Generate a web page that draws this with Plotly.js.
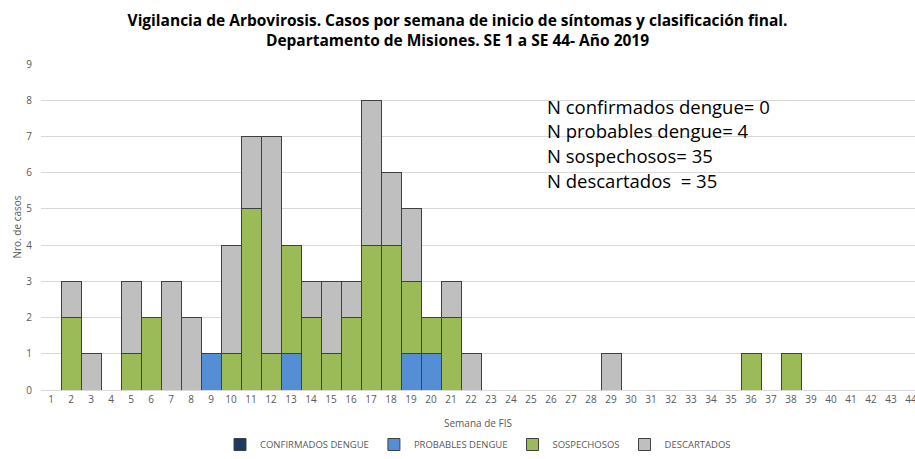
<!DOCTYPE html>
<html>
<head>
<meta charset="utf-8">
<script src="https://cdn.plot.ly/plotly-3.0.1.min.js"></script>
<style>html,body{margin:0;padding:0;background:#fff;}#chart{width:915px;height:459px;}</style>
</head>
<body>
<div id="chart"></div>
<script>
const semanas = Array.from({length: 44}, (_, i) => i + 1);
const confirmados = [0,0,0,0,0,0,0,0,0,0,0,0,0,0,0,0,0,0,0,0,0,0,0,0,0,0,0,0,0,0,0,0,0,0,0,0,0,0,0,0,0,0,0,0];
const probables   = [0,0,0,0,0,0,0,0,1,0,0,0,1,0,0,0,0,0,1,1,0,0,0,0,0,0,0,0,0,0,0,0,0,0,0,0,0,0,0,0,0,0,0,0];
const sospechosos = [0,2,0,0,1,2,0,0,0,1,5,1,3,2,1,2,4,4,2,1,2,0,0,0,0,0,0,0,0,0,0,0,0,0,0,1,0,1,0,0,0,0,0,0];
const descartados = [0,1,1,0,2,0,3,2,0,3,2,6,0,1,2,1,4,2,2,0,1,1,0,0,0,0,0,0,1,0,0,0,0,0,0,0,0,0,0,0,0,0,0,0];
const seriesNames = ["CONFIRMADOS DENGUE", "PROBABLES DENGUE", "SOSPECHOSOS", "DESCARTADOS"];
const resumen = ["N confirmados dengue= 0", "N probables dengue= 4", "N sospechosos= 35", "N descartados  = 35"];

const colors = ["#1F3864", "#558ED5", "#9BBB59", "#BFBFBF"];
const data = [confirmados, probables, sospechosos, descartados].map((vals, i) => ({
  type: "bar",
  name: seriesNames[i],
  x: semanas,
  y: vals,
  marker: {color: colors[i], line: {color: "#404040", width: 1}},
  hoverinfo: "x+y+name"
}));

const layout = {
  width: 915, height: 459,
  margin: {l: 41, r: 0, t: 64, b: 69},
  paper_bgcolor: "#fff", plot_bgcolor: "#fff",
  barmode: "stack", bargap: 0,
  font: {family: "Open Sans, sans-serif", color: "#595959", size: 10},
  title: {
    text: "<b>Vigilancia de Arbovirosis. Casos por semana de inicio de síntomas y clasificación final.<br>Departamento de Misiones. SE 1 a SE 44- Año 2019</b>",
    font: {family: "Open Sans, sans-serif", size: 15.5, color: "#000"},
    x: 0.5, xanchor: "center", xref: "container", yref: "container", y: 1 - 26 / 459, yanchor: "middle"
  },
  xaxis: {
    range: [0.5, 44.2], tickmode: "array", tickvals: semanas, ticktext: semanas.map(String),
    showgrid: false, showline: true, linecolor: "#D9D9D9", linewidth: 1,
    ticks: "", tickfont: {size: 10, color: "#595959"}, automargin: false, ticklabeloverflow: "allow",
    title: {text: "Semana de FIS", font: {size: 10, color: "#595959"}},
    fixedrange: true
  },
  yaxis: {
    range: [0, 9], dtick: 1, showgrid: true, gridcolor: "#D9D9D9", zeroline: false,
    ticks: "", tickfont: {size: 10, color: "#595959"}, ticklabelstandoff: 8, automargin: true,
    title: {text: "Nro. de casos", font: {size: 10, color: "#595959"}, standoff: 2},
    fixedrange: true
  },
  legend: {
    orientation: "h", x: 0.5, xanchor: "center", yref: "container", y: 0, yanchor: "bottom",
    font: {size: 9.5, color: "#595959"}, traceorder: "normal",
    itemwidth: 30
  },
  annotations: resumen.map((t, i) => ({
    text: t, xref: "paper", yref: "paper", x: (545 - 41) / 874, xanchor: "left",
    y: (390 - (106 + i * 24.7)) / 326, yanchor: "middle", showarrow: false,
    font: {family: "Open Sans, sans-serif", size: 18.5, color: "#000"}, align: "left"
  }))
};

Plotly.newPlot("chart", data, layout, {displayModeBar: false, staticPlot: true});
</script>
</body>
</html>
